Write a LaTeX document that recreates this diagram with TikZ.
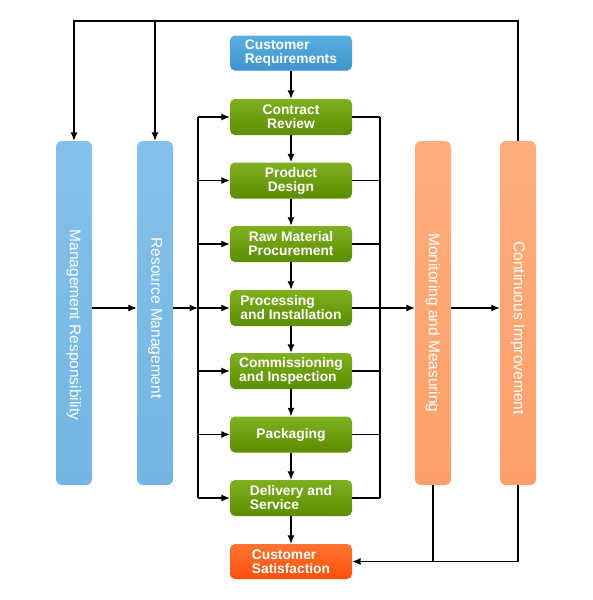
\documentclass[tikz,border=0pt]{standalone}
\usepackage{fontspec}
\setmainfont{Liberation Sans}
\usetikzlibrary{arrows.meta,calc}
\definecolor{gTop}{HTML}{7FB020}
\definecolor{gBot}{HTML}{5C8C00}
\definecolor{bTop}{HTML}{5AAEE0}
\definecolor{bBot}{HTML}{3E94CC}
\definecolor{rTop}{HTML}{FF7434}
\definecolor{rBot}{HTML}{FF5008}
\definecolor{tbTop}{HTML}{84C1EA}
\definecolor{tbBot}{HTML}{74B5E3}
\definecolor{toTop}{HTML}{FFAD7C}
\definecolor{toBot}{HTML}{FFA06A}
\tikzset{
  box/.style={rounded corners=5pt, minimum width=122pt, minimum height=36pt,
    inner sep=0pt, text=white, font=\bfseries\fontsize{13.8}{14}\selectfont, align=center},
  gbox/.style={box, top color=gTop, bottom color=gBot},
  tall/.style={rounded corners=6pt, minimum width=36pt, minimum height=344pt, inner sep=0pt},
  tallblue/.style={tall, top color=tbTop, bottom color=tbBot},
  tallorange/.style={tall, top color=toTop, bottom color=toBot},
  vtext/.style={rotate=-90, text=white, font=\fontsize{15.5}{16}\selectfont, inner sep=0pt},
  arr/.style={-{Latex[length=8.5pt,width=7pt]}, line width=1.1pt},
  ln/.style={line width=1.1pt},
}
\begin{document}
\begin{tikzpicture}[x=1pt,y=-1pt]
\useasboundingbox (0,0) rectangle (593,600);
% top and bottom boxes
\node[box, top color=bTop, bottom color=bBot, minimum height=35pt, align=left] (cr) at (291,53) {Customer\\Requirements};
\node[gbox] (c1) at (291,117) {Contract\\Review};
\node[gbox] (c2) at (291,180.5) {Product\\Design};
\node[gbox] (c3) at (291,244) {Raw Material\\Procurement};
\node[gbox, align=left] (c4) at (291,308) {Processing\\and Installation};
\node[gbox, align=left] (c5) at (291,371) {Commissioning\\and Inspection};
\node[gbox] (c6) at (291,434.5) {Packaging};
\node[gbox, align=left] (c7) at (291,498) {Delivery and\\Service};
\node[box, top color=rTop, bottom color=rBot, minimum height=35pt, align=left] (cs) at (291,561.5) {Customer\\Satisfaction};
% tall boxes
\node[tallblue] (mr) at (74,313) {};
\node[vtext] (mrt) at (74,325) {Management Responsibility};
\node[tallblue] (rm) at (155,313) {};
\node[vtext] (rmt) at (155,318) {Resource Management};
\node[tallorange] (mm) at (433,313) {};
\node[vtext] (mmt) at (433,323) {Monitoring and Measuring};
\node[tallorange] (ci) at (518,313) {};
\node[vtext] (cit) at (518,328) {Continuous Improvement};
% bus coordinates
\coordinate (lb) at (198,0);
\coordinate (rb) at (380,0);
\coordinate (top) at (0,21);
% vertical chain
\draw[arr] (cr.south) -- (c1.north);
\foreach \a/\b in {c1/c2,c2/c3,c3/c4,c4/c5,c5/c6,c6/c7,c7/cs}
  \draw[arr] (\a.south) -- (\b.north);
% left bus
\draw[ln] (c1.west -| lb) -- (c7.west -| lb);
\foreach \c in {c1,c2,c3,c4,c5,c6,c7}
  \draw[arr] (\c.west -| lb) -- (\c.west);
% right bus
\draw[ln] (c1.east -| rb) -- (c7.east -| rb);
\foreach \c in {c1,c2,c3,c5,c6,c7}
  \draw[ln] (\c.east) -- (\c.east -| rb);
% horizontal main flow
\draw[arr] (mr.east |- c4.west) -- (rm.west |- c4.west);
\draw[arr] (rm.east |- c4.west) -- (c4.west -| lb);
\draw[arr] (c4.east) -- (mm.west |- c4.east);
\draw[arr] (mm.east |- c4.east) -- (ci.west |- c4.east);
% top feedback loop
\draw[arr] (ci.north) -- (ci.north |- top) -- (mr.north |- top) -- (mr.north);
\draw[arr] (rm.north |- top) -- (rm.north);
% bottom to customer satisfaction
\draw[arr] (ci.south) |- (cs.east);
\draw[ln] (mm.south) -- (mm.south |- cs.east);
\end{tikzpicture}
\end{document}
